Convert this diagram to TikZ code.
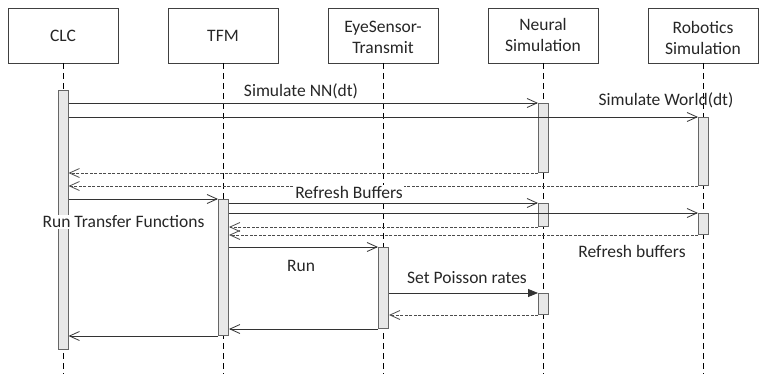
\documentclass[tikz,border=0pt]{standalone}
\usepackage{fontspec}
\setmainfont{Carlito}
\usetikzlibrary{arrows.meta}
\begin{document}
\begin{tikzpicture}[x=1pt,y=-1pt,
  every node/.style={font=\fontsize{17.5}{21}\selectfont, text=black!85},
  head/.style={draw=black!75, line width=0.8pt, fill=white, minimum width=110pt, minimum height=55pt, inner sep=0pt},
  htext/.style={align=center, inner sep=0pt},
  life/.style={draw=black, line width=0.7pt, dash pattern=on 6pt off 4pt},
  actbox/.style={draw=black!60, fill=black!9, line width=1pt, minimum width=10pt, inner sep=0pt, anchor=north},
  msg/.style={draw=black!80, line width=0.8pt, -{Straight Barb[length=10pt,width=9pt,line width=0.8pt]}},
  fmsg/.style={draw=black!80, line width=0.8pt, -{Triangle[length=10pt,width=8pt]}},
  ret/.style={draw=black!70, line width=0.7pt, dash pattern=on 3pt off 1.5pt, -{Straight Barb[length=10pt,width=9pt,line width=0.8pt]}},
  lbl/.style={inner sep=1pt},
]
\useasboundingbox (0,0) rectangle (759,377);

% heads
\node[head] (clc) at (63,35.5) {};
\node[head] (tfm) at (223,35.5) {};
\node[head] (eye) at (383,35.5) {};
\node[head] (neu) at (543,35.5) {};
\node[head] (rob) at (703,35.5) {};
\node[htext] (clcT) at (63,35.5) {CLC};
\node[htext] (tfmT) at (223,35.5) {TFM};
\node[htext] (eyeT) at (383,37) {EyeSensor-\\Transmit};
\node[htext] (neuT) at (543,34.5) {Neural\\Simulation};
\node[htext] (robT) at (703,38) {Robotics\\Simulation};

% lifeline ends
\coordinate (clcE) at (63,374);
\coordinate (tfmE) at (223,374);
\coordinate (eyeE) at (383,374);
\coordinate (neuE) at (543,374);
\coordinate (robE) at (703,374);
\draw[life] (clc.south) -- (clcE);
\draw[life] (tfm.south) -- (tfmE);
\draw[life] (eye.south) -- (eyeE);
\draw[life] (neu.south) -- (neuE);
\draw[life] (rob.south) -- (robE);

% activations
\node[actbox, minimum height=259pt] (a1) at (63,90) {};
\node[actbox, minimum height=69pt] (n1) at (543.5,103) {};
\node[actbox, minimum height=68pt] (r1) at (703.5,117) {};
\node[actbox, minimum height=136pt] (t1) at (223.5,199) {};
\node[actbox, minimum height=23pt] (n2) at (543.5,203) {};
\node[actbox, minimum height=21pt] (r2) at (703.5,213) {};
\node[actbox, minimum height=81pt] (e1) at (383.5,247) {};
\node[actbox, minimum height=21pt] (n3) at (543.5,293) {};

% messages
\draw[msg] (a1.east |- n1.north west) -- (n1.north west);
\draw[msg] (a1.east |- r1.north west) -- (r1.north west);
\draw[ret] (n1.south west) -- (a1.east |- n1.south west);
\draw[ret] (r1.south west) -- (a1.east |- r1.south west);

\node[lbl, fill=white] (lRB) at (349,192) {Refresh Buffers};

\draw[msg] (a1.east |- t1.north west) -- (t1.north west);
\draw[msg] (t1.east |- n2.north west) -- (n2.north west);
\draw[msg] (t1.east |- r2.north west) -- (r2.north west);
\draw[ret] (n2.south west) -- (t1.east |- n2.south west);
\draw[ret] (r2.south west) -- (t1.east |- r2.south west);
\draw[msg] (t1.east |- e1.north west) -- (e1.north west);
\draw[fmsg] (e1.east |- n3.north west) -- (n3.north west);
\draw[ret] (n3.south west) -- (e1.east |- n3.south west);
\draw[msg] (e1.south west) -- (t1.east |- e1.south west);
\draw[msg] (t1.south west) -- (a1.east |- t1.south west);

% labels
\node[lbl] (lNN) at (301,91) {Simulate NN(dt)};
\node[lbl] (lW) at (666,100) {Simulate World(dt)};
\node[lbl, fill=white] (lRTF) at (123.5,222) {Run Transfer Functions};
\node[lbl] (lRb) at (632,251) {Refresh buffers};
\node[lbl] (lRun) at (301,266) {Run};
\node[lbl] (lSP) at (467,278) {Set Poisson rates};
\end{tikzpicture}
\end{document}
